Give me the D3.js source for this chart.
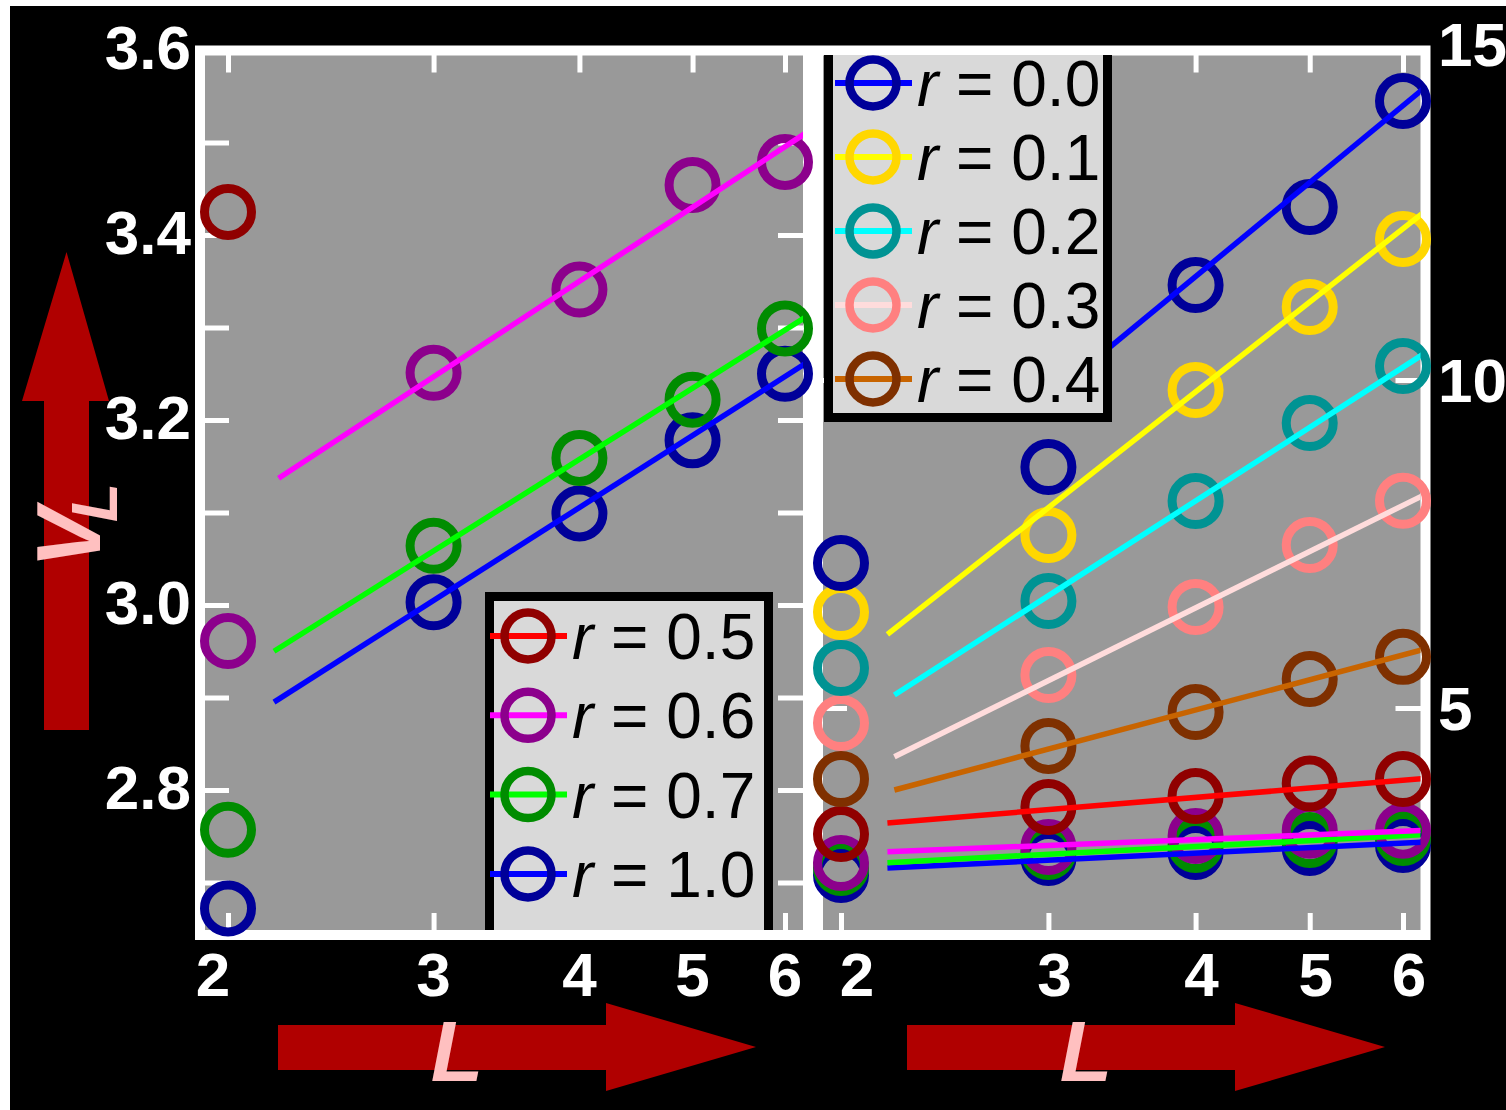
<!DOCTYPE html>
<html><head><meta charset="utf-8">
<script src="https://cdn.jsdelivr.net/npm/d3@7"></script>
<style>body{margin:0;background:#fff;} text{font-family:"Liberation Sans",Arial,sans-serif;}</style>
</head><body><script>
// ---------- data ----------
const Ls = [2, 3, 4, 5, 6];
const rKeys = ["0.0", "0.1", "0.2", "0.3", "0.4", "0.5", "0.6", "0.7", "1.0"];
const markerColors = ["#000099", "#ffd700", "#009393", "#ff8080", "#7f3000", "#900000", "#8c008c", "#008c00", "#000099"];
const lineColors = ["#0000ff", "#ffff00", "#00ffff", "#ffdcdc", "#c86400", "#ff0000", "#ff00ff", "#00ff00", "#0000ff"];

// left panel (V_L, zoomed range)
const leftV05 = [3.425, null, null, null, null];
const leftV06 = [2.961, 3.251, 3.341, 3.454, 3.479];
const leftV07 = [2.757, 3.064, 3.159, 3.222, 3.299];
const leftV10 = [2.672, 3.003, 3.099, 3.178, 3.250];
const leftFit06 = [[2.21, 3.137], [6.3, 3.513]];
const leftFit07 = [[2.19, 2.950], [6.3, 3.314]];
const leftFit10 = [[2.19, 2.895], [6.3, 3.264]];

// right panel (full range)
const rightV00 = [7.210, 8.674, 11.448, 12.637, 14.253];
const rightV01 = [6.463, 7.637, 9.848, 11.113, 12.149];
const rightV02 = [5.610, 6.631, 8.155, 9.345, 10.213];
const rightV03 = [4.771, 5.503, 6.540, 7.485, 8.160];
const rightV04 = [3.918, 4.421, 4.939, 5.442, 5.780];
const rightV05 = [3.079, 3.491, 3.659, 3.848, 3.918];
const rightV06 = [2.637, 2.881, 3.049, 3.130, 3.130];
const rightV07 = [2.561, 2.805, 2.912, 2.988, 3.018];
const rightV10 = [2.454, 2.713, 2.805, 2.866, 2.912];
const rightFit00 = [[3.3, 10.34], [6.3, 14.497]];
const rightFit01 = [[2.19, 6.123], [6.3, 12.607]];
const rightFit02 = [[2.22, 5.198], [6.3, 10.440]];
const rightFit03 = [[2.22, 4.258], [6.3, 8.277]];
const rightFit04 = [[2.22, 3.750], [6.3, 5.909]];
const rightFit05 = [[2.19, 3.247], [6.3, 3.930]];
const rightFit06 = [[2.19, 2.809], [6.3, 3.136]];
const rightFit07 = [[2.19, 2.642], [6.3, 3.072]];
const rightFit10 = [[2.19, 2.561], [6.3, 2.957]];

const leftYTicks = [2.7, 2.8, 2.9, 3.0, 3.1, 3.2, 3.3, 3.4, 3.5, 3.6];
const leftYLabels = [2.8, 3.0, 3.2, 3.4, 3.6];
const rightYTicks = [5, 10, 15];
const rightYLabels = [5, 10, 15];
const xTickLabels = ["2", "3", "4", "5", "6"];

// ---------- setup ----------
const svg = d3.select("body").append("svg").attr("width", 1506).attr("height", 1110);
svg.append("rect").attr("x", 10).attr("y", 6).attr("width", 1496).attr("height", 1104).attr("fill", "#000");
const defs = svg.append("defs");

const leftBox = {x0: 200, x1: 808, y0: 50.5, y1: 935};
const rightBox = {x0: 818, x1: 1425.5, y0: 50.5, y1: 935};

const xLeft = d3.scaleLog().domain([2, 6]).range([228, 785]);
const yLeft = d3.scaleLinear().domain([2.8, 3.6]).range([790, 50]);
const xRight = d3.scaleLog().domain([2, 6]).range([841, 1403]);
const yRight = d3.scaleLinear().domain([5, 15]).range([708, 52]);

const leftSeries = [
  {k: 5, vals: leftV05, fit: null},
  {k: 6, vals: leftV06, fit: leftFit06},
  {k: 7, vals: leftV07, fit: leftFit07},
  {k: 8, vals: leftV10, fit: leftFit10}
];
const rightSeries = [
  {k: 0, vals: rightV00, fit: rightFit00},
  {k: 1, vals: rightV01, fit: rightFit01},
  {k: 2, vals: rightV02, fit: rightFit02},
  {k: 3, vals: rightV03, fit: rightFit03},
  {k: 4, vals: rightV04, fit: rightFit04},
  {k: 5, vals: rightV05, fit: rightFit05},
  {k: 6, vals: rightV06, fit: rightFit06},
  {k: 7, vals: rightV07, fit: rightFit07},
  {k: 8, vals: rightV10, fit: rightFit10}
];

function tickStyle(sel) {
  sel.select(".domain").remove();
  sel.selectAll("text").remove();
  sel.selectAll("line").attr("stroke", "#fff").attr("stroke-width", 5);
}

function drawPanel(id, box, x, y, series, yTicks, legend) {
  const g = svg.append("g");
  g.append("rect").attr("x", box.x0).attr("y", box.y0)
    .attr("width", box.x1 - box.x0).attr("height", box.y1 - box.y0).attr("fill", "#999");

  g.append("g").attr("transform", `translate(0,${box.y1})`)
    .call(d3.axisBottom(x).tickValues(Ls).tickSizeInner(-22).tickSizeOuter(0)).call(tickStyle);
  g.append("g").attr("transform", `translate(0,${box.y0})`)
    .call(d3.axisTop(x).tickValues(Ls).tickSizeInner(-22).tickSizeOuter(0)).call(tickStyle);
  g.append("g").attr("transform", `translate(${box.x0},0)`)
    .call(d3.axisLeft(y).tickValues(yTicks).tickSizeInner(-29).tickSizeOuter(0)).call(tickStyle);
  g.append("g").attr("transform", `translate(${box.x1},0)`)
    .call(d3.axisRight(y).tickValues(yTicks).tickSizeInner(-30).tickSizeOuter(0)).call(tickStyle);

  // frame
  g.append("rect").attr("x", box.x0).attr("y", box.y0)
    .attr("width", box.x1 - box.x0).attr("height", box.y1 - box.y0)
    .attr("fill", "none").attr("stroke", "#fff").attr("stroke-width", 10);

  defs.append("clipPath").attr("id", id).append("rect")
    .attr("x", box.x0 + 5).attr("y", box.y0 + 4.5)
    .attr("width", box.x1 - box.x0 - 10).attr("height", box.y1 - box.y0 - 9.5);

  // circles (not clipped; they overlap the frame), drawn from r=1.0 upward
  series.slice().reverse().forEach(s => {
    const pts = Ls.map((L, i) => [L, s.vals[i]]).filter(d => d[1] !== null);
    g.append("g").selectAll("circle").data(pts).join("circle")
      .attr("cx", d => x(d[0])).attr("cy", d => y(d[1])).attr("r", 23.5)
      .attr("fill", "none").attr("stroke", markerColors[s.k]).attr("stroke-width", 9);
  });

  const dg = g.append("g").attr("clip-path", `url(#${id})`);
  const line = d3.line().x(d => x(d[0])).y(d => y(d[1]));
  series.slice().reverse().forEach(s => {
    if (!s.fit) return;
    dg.append("path").attr("d", line(s.fit)).attr("fill", "none")
      .attr("stroke", lineColors[s.k]).attr("stroke-width", 5.5);
  });

  // legend
  const lg = dg.append("g");
  lg.append("rect").attr("x", legend.x).attr("y", legend.y).attr("width", legend.w).attr("height", legend.h)
    .attr("fill", "#d9d9d9").attr("stroke", "#000").attr("stroke-width", 9);
  legend.keys.forEach((k, i) => {
    const cy = legend.cy0 + i * legend.dy;
    lg.append("line").attr("x1", legend.cx - 38).attr("x2", legend.cx + 39).attr("y1", cy).attr("y2", cy)
      .attr("stroke", lineColors[k]).attr("stroke-width", 6);
    lg.append("circle").attr("cx", legend.cx).attr("cy", cy).attr("r", 23.5)
      .attr("fill", "none").attr("stroke", markerColors[k]).attr("stroke-width", 8.5);
    const t = lg.append("text").attr("x", legend.cx + 44).attr("y", cy + 23)
      .attr("font-size", 64).attr("fill", "#000");
    t.append("tspan").attr("font-style", "italic").text("r");
    t.append("tspan").text(" = " + rKeys[k]);
  });
  return g;
}

drawPanel("clipL", leftBox, xLeft, yLeft, leftSeries, leftYTicks,
  {x: 489.5, y: 596.5, w: 279, h: 420, keys: [5, 6, 7, 8], cy0: 636, dy: 79.3, cx: 528});
drawPanel("clipR", rightBox, xRight, yRight, rightSeries, rightYTicks,
  {x: 828.5, y: 20, w: 279, h: 397.5, keys: [0, 1, 2, 3, 4], cy0: 83, dy: 74, cx: 873});

// ---------- tick labels ----------
const lab = svg.append("g").attr("fill", "#fff").attr("font-weight", "bold").attr("font-size", 62);
lab.selectAll(".yl").data(leftYLabels).join("text")
  .attr("x", 191).attr("y", d => yLeft(d)).attr("dy", "0.31em").attr("text-anchor", "end")
  .text(d => d.toFixed(1));
lab.selectAll(".yr").data(rightYLabels).join("text")
  .attr("x", 1438).attr("y", d => yRight(d)).attr("dy", (d, i) => i === 2 ? "0.22em" : "0.36em").attr("text-anchor", "start")
  .text(d => d);
lab.selectAll(".xl").data(Ls).join("text")
  .attr("x", (d, i) => xLeft(d) + (i === 0 ? -15 : 0)).attr("y", 996).attr("text-anchor", "middle")
  .text((d, i) => xTickLabels[i]);
lab.selectAll(".xr").data(Ls).join("text")
  .attr("x", (d, i) => xRight(d) + (i === 0 ? 16 : 6)).attr("y", 996).attr("text-anchor", "middle")
  .text((d, i) => xTickLabels[i]);

// ---------- axis arrows and titles ----------
const arrowRed = "#b00000";
svg.append("polygon").attr("fill", arrowRed)
  .attr("points", [[44,730],[44,401],[22,401],[66.5,252],[109,401],[89,401],[89,730]].map(p => p.join(",")).join(" "));
[0, 629].forEach(off => {
  svg.append("polygon").attr("fill", arrowRed)
    .attr("points", [[278,1025],[606,1025],[606,1003],[756,1047],[606,1091],[606,1070],[278,1070]]
      .map(p => (p[0] + off) + "," + p[1]).join(" "));
  svg.append("text").attr("x", 457 + off).attr("y", 1081).attr("text-anchor", "middle")
    .attr("font-size", 86).attr("font-weight", "bold").attr("font-style", "italic")
    .attr("fill", "#ffc0c0").text("L");
});
const vt = svg.append("text").attr("transform", "translate(100,568) rotate(-90)")
  .attr("font-weight", "bold").attr("font-style", "italic").attr("fill", "#ffc0c0");
vt.append("tspan").attr("font-size", 90).text("V");
vt.append("tspan").attr("font-size", 64).attr("dx", -14).attr("dy", 17).text("L");
</script></body></html>
